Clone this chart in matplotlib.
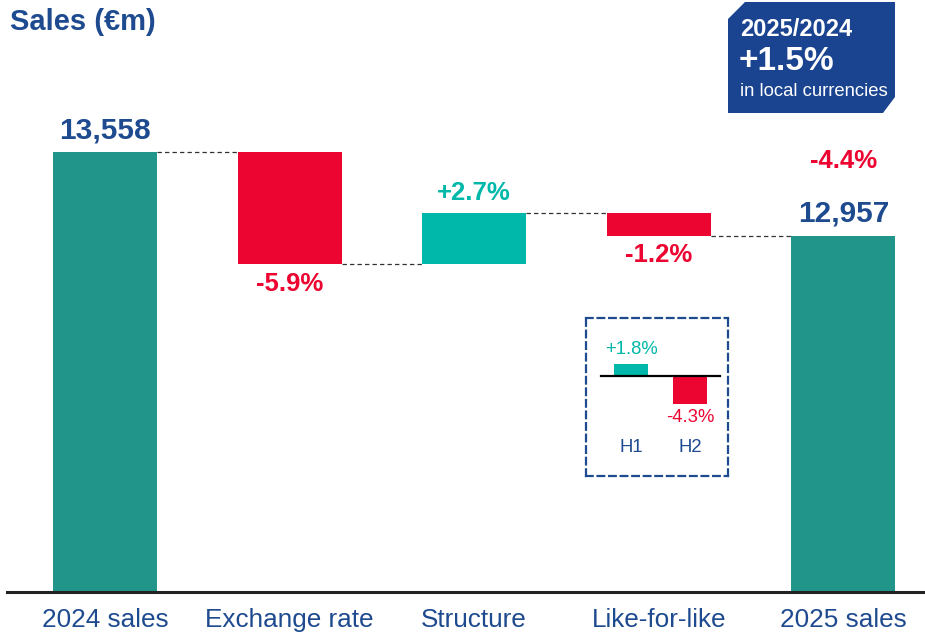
import matplotlib
matplotlib.use('Agg')
import matplotlib.pyplot as plt
from matplotlib.patches import Polygon

plt.rcParams['font.family'] = ['Liberation Sans', 'DejaVu Sans']

# ---------------- data ----------------
categories = ['2024 sales', 'Exchange rate', 'Structure', 'Like-for-like', '2025 sales']
start_value = 13558
end_value = 12957
variations = [-800, 366, -167]          # €m, exchange rate / structure / like-for-like
variation_labels = ['-5.9%', '+2.7%', '-1.2%']
total_change_label = '-4.4%'
value_labels = ['13,558', '12,957']
lfl_halves = ['H1', 'H2']
lfl_half_values = [1.8, -4.3]
lfl_half_labels = ['+1.8%', '-4.3%']
box_title = '2025/2024'
box_value = '+1.5%'
box_note = 'in local currencies'
title = 'Sales (€m)'

# ---------------- style ----------------
DARK_TEAL = '#21958A'
LIGHT_TEAL = '#00B8A9'
RED = '#EC0531'
NAVY = '#1E4A8F'
BOX = '#1A4490'

W, H = 925, 636
fig = plt.figure(figsize=(W / 100, H / 100), dpi=100)

base_px = 592
spacing = 184.6
first_center = 105
floor = 10410
px_per_unit = 0.1398

ax = fig.add_axes([0, (H - base_px) / H, 1, base_px / H])
ax.set_xlim(-first_center / spacing, (W - first_center) / spacing)
ax.set_ylim(floor, floor + base_px / px_per_unit)
ax.axis('off')

bw = 0.563

# start bar
ax.bar(0, start_value - floor, bottom=floor, width=bw, color=DARK_TEAL, zorder=2)
ax.annotate(value_labels[0], (0, start_value), xytext=(0, 21), textcoords='offset pixels',
            ha='center', va='center', fontsize=21.5, fontweight='bold', color=NAVY)

level = start_value
label_offsets = [-20, 20, -19]
for i, (v, lab, off) in enumerate(zip(variations, variation_labels, label_offsets), start=1):
    bottom = min(level, level + v)
    color = RED if v < 0 else LIGHT_TEAL
    ax.bar(i, abs(v), bottom=bottom, width=bw, color=color, zorder=2)
    ax.plot([i - 1 + bw / 2, i - bw / 2], [level, level], color='#333333', lw=0.9,
            ls=(0, (3.5, 2.5)), zorder=1)
    y_anchor = bottom if off < 0 else bottom + abs(v)
    ax.annotate(lab, (i, y_anchor), xytext=(0, off), textcoords='offset pixels',
                ha='center', va='center', fontsize=18.5, fontweight='bold', color=color)
    level += v

n = len(categories) - 1
ax.plot([n - 1 + bw / 2, n - bw / 2], [level, level], color='#333333', lw=0.9,
        ls=(0, (3.5, 2.5)), zorder=1)
ax.bar(n, end_value - floor, bottom=floor, width=bw, color=DARK_TEAL, zorder=2)
ax.annotate(value_labels[1], (n, end_value), xytext=(0, 22), textcoords='offset pixels',
            ha='center', va='center', fontsize=21.5, fontweight='bold', color=NAVY)
ax.annotate(total_change_label, (n, end_value), xytext=(0, 75), textcoords='offset pixels',
            ha='center', va='center', fontsize=18.5, fontweight='bold', color=RED)

# baseline
x0 = ax.get_xlim()[0] + 7 / spacing
ax.plot([x0, ax.get_xlim()[1]], [floor, floor], color='#222222', lw=2.2, clip_on=False, zorder=3)

for i, c in enumerate(categories):
    ax.annotate(c, (i, floor), xytext=(0, -28), textcoords='offset pixels',
                ha='center', va='center', fontsize=18.8, color=NAVY, annotation_clip=False)

# title
fig.text(10 / W, 1 - 22 / H, title, ha='left', va='center', fontsize=21,
         fontweight='bold', color=NAVY)

# top-right box
pts = [(745, 2), (895, 2), (895, 97), (883, 113), (728, 113), (728, 19)]
poly = Polygon([(x / W, 1 - y / H) for x, y in pts], closed=True,
               transform=fig.transFigure, facecolor=BOX, edgecolor='none')
fig.patches.append(poly)
fig.text(740 / W, 1 - 30 / H, box_title, ha='left', va='center', fontsize=17,
         fontweight='bold', color='white')
fig.text(739 / W, 1 - 62 / H, box_value, ha='left', va='center', fontsize=24,
         fontweight='bold', color='white')
fig.text(740 / W, 1 - 91 / H, box_note, ha='left', va='center', fontsize=13.3, color='white')

# inset: like-for-like by half
ix0, iy0, iw, ih = 586, 318, 142, 158
ax2 = fig.add_axes([ix0 / W, (H - iy0 - ih) / H, iw / W, ih / H])
ax2.set_facecolor('none')
isp = 59
ax2.set_xlim(-45 / isp, (iw - 45) / isp)
ppp = 6.4
ax2.set_ylim(-(476 - 376) / ppp, (376 - 318) / ppp)
ax2.set_xticks([])
ax2.set_yticks([])
for s in ax2.spines.values():
    s.set_linestyle((0, (3, 2.2)))
    s.set_linewidth(1.6)
    s.set_color(NAVY)
ibw = 0.576
for j, (h, v, lab) in enumerate(zip(lfl_halves, lfl_half_values, lfl_half_labels)):
    color = LIGHT_TEAL if v >= 0 else RED
    ax2.bar(j, v, width=ibw, color=color, zorder=2)
    off = 15 if v >= 0 else -14
    ax2.annotate(lab, (j, v), xytext=(0, off), textcoords='offset pixels',
                 ha='center', va='center', fontsize=13.3, color=color)
    ax2.annotate(h, (j, ax2.get_ylim()[0]), xytext=(0, 29), textcoords='offset pixels',
                 ha='center', va='center', fontsize=13.3, color=NAVY)
ax2.plot([(601 - ix0 - 45) / isp, (720 - ix0 - 45) / isp], [0, 0], color='black', lw=1.6, zorder=3)

fig.savefig('out.png', dpi=100)
